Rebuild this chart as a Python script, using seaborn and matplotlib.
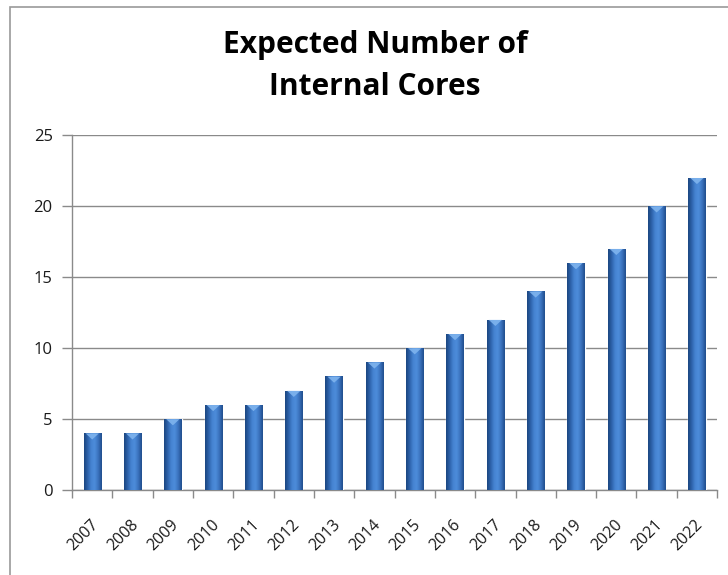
import numpy as np
import pandas as pd
import matplotlib
matplotlib.use("Agg")
import matplotlib.pyplot as plt
import matplotlib.transforms as mtransforms
import seaborn as sns
from matplotlib.colors import LinearSegmentedColormap
from matplotlib.patches import Rectangle

years = ["2007", "2008", "2009", "2010", "2011", "2012", "2013", "2014",
         "2015", "2016", "2017", "2018", "2019", "2020", "2021", "2022"]
cores = [4, 4, 5, 6, 6, 7, 8, 9, 10, 11, 12, 14, 16, 17, 20, 22]
yticks = [0, 5, 10, 15, 20, 25]
title = "Expected Number of\nInternal Cores"

df = pd.DataFrame({"year": years, "cores": cores})

sns.set_theme(style="white")
plt.rcParams["font.family"] = ["Open Sans", "DejaVu Sans"]

fig = plt.figure(figsize=(7.28, 5.75), dpi=100)
ax = fig.add_axes([0.099, 0.148, 0.886, 0.617])

sns.barplot(data=df, x="year", y="cores", ax=ax, color="#3a74c0",
            width=0.43, saturation=1, zorder=3)

# cylinder-like gradient on bars
cmap = LinearSegmentedColormap.from_list(
    "cyl", ["#1b4680", "#2d62aa", "#4684d2", "#4d8cda", "#3a72bd", "#204d8c"])
grad = np.linspace(0, 1, 64).reshape(1, -1)
for p in ax.patches:
    x0, y0 = p.get_x(), p.get_y()
    w, h = p.get_width(), p.get_height()
    im = ax.imshow(grad, extent=[x0, x0 + w, y0, y0 + h], aspect="auto",
                   cmap=cmap, zorder=4, interpolation="bicubic")
    im.set_clip_path(p)
    cap_h = 0.45
    ax.fill([x0 + w * 0.12, x0 + w * 0.88, x0 + w * 0.5],
            [y0 + h - 0.02, y0 + h - 0.02, y0 + h - cap_h],
            color="#7fb4ee", zorder=5, lw=0, alpha=0.9)

ax.set_xlim(-0.5, len(years) - 0.5)
ax.set_ylim(0, 25)
ax.set_yticks(yticks)
ax.set_xlabel("")
ax.set_ylabel("")

ax.yaxis.grid(True, color="#8a8a8a", lw=1.0, zorder=1)
ax.set_axisbelow(True)

for s in ["top", "right"]:
    ax.spines[s].set_visible(False)
for s in ["left", "bottom"]:
    ax.spines[s].set_color("#8a8a8a")
    ax.spines[s].set_linewidth(1.0)

ax.tick_params(axis="y", which="both", left=True, length=7, width=1,
               color="#8a8a8a", labelsize=12, pad=7, labelcolor="#1a1a1a")
ax.set_xticks(range(len(years)))
ax.set_xticklabels(years, rotation=45, ha="right", va="top",
                   rotation_mode="anchor", fontsize=11.5, color="#1a1a1a")
ax.tick_params(axis="x", which="major", bottom=False, length=0, pad=19)
ax.set_xticks(np.arange(-0.5, len(years), 1), minor=True)
ax.tick_params(axis="x", which="minor", bottom=True, length=6, width=1,
               color="#8a8a8a")
offset = mtransforms.ScaledTranslation(-2 / 100, 0, fig.dpi_scale_trans)
for lab in ax.get_xticklabels():
    lab.set_transform(lab.get_transform() + offset)

fig.text(0.515, 0.885, title, ha="center", va="center", fontsize=21.5,
         fontweight="bold", linespacing=1.5, color="black")

# chart frame
fig.patches.append(Rectangle((10 / 728, -0.05), 1.2, 1 - 7 / 575 + 0.05,
                             transform=fig.transFigure, fill=False,
                             edgecolor="#9a9a9a", lw=1.2))

fig.savefig("out.png", dpi=100)
